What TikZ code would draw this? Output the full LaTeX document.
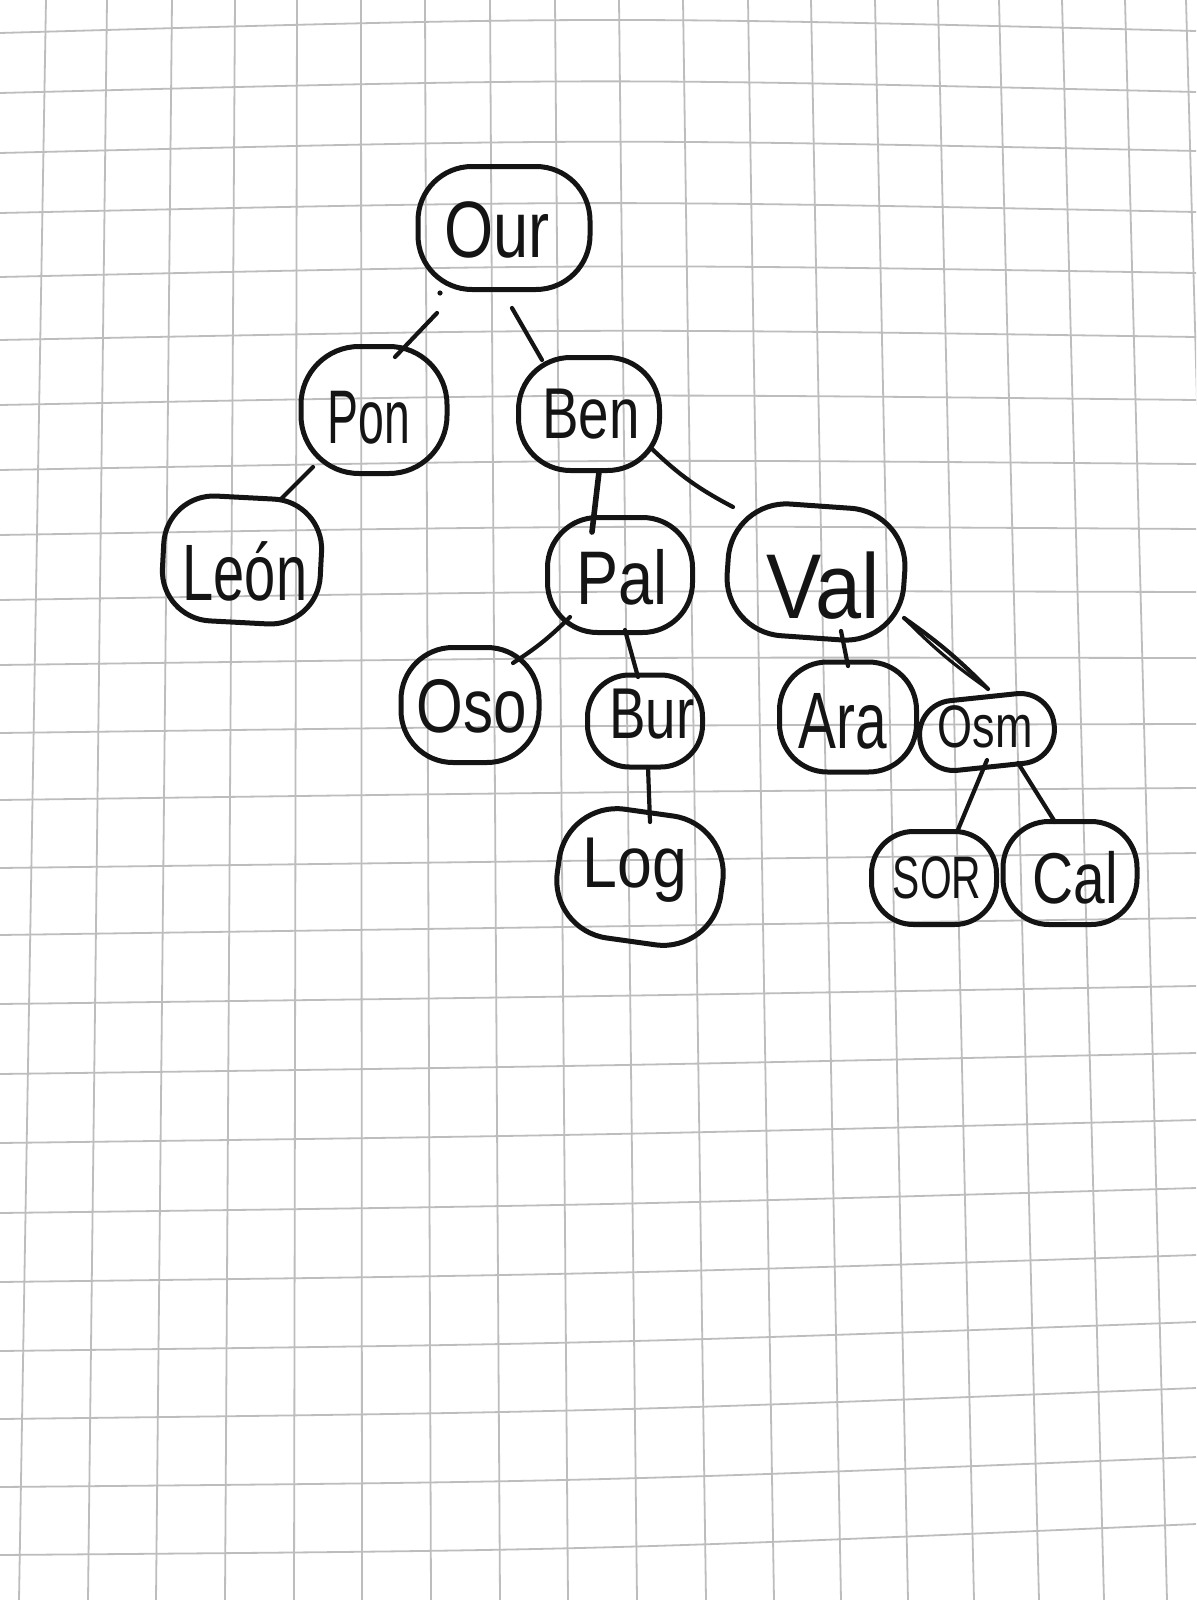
\documentclass[tikz,border=0pt]{standalone}
\usepackage{fontspec}
\setmainfont{Liberation Sans}
\usepackage{graphicx}
\usetikzlibrary{calc}
\definecolor{ink}{HTML}{141414}
\definecolor{gridc}{HTML}{BDBDBD}
\newcommand{\hwtext}[3]{\fontsize{#1pt}{#1pt}\selectfont\scalebox{#2}[1]{#3}}
\begin{document}
\begin{tikzpicture}[x=0.5pt,y=-0.5pt,
  blob/.style={draw=ink, line width=2.5pt, rectangle, inner sep=0pt},
  lbl/.style={anchor=base, inner sep=0pt, outer sep=0pt, text=ink},
  edge/.style={draw=ink, line width=2.1pt, line cap=round},
  gridline/.style={draw=gridc, line width=0.9pt}]
\useasboundingbox (0,0) rectangle (1196,1600);
\fill[white] (0,0) rectangle (1196,1600);
\begin{scope}
\clip (0,0) rectangle (1196,1600);
% grid: vertical lines
\foreach \xa/\xb in {46/19,107/88,172/156,235/225,297/294,361/362,425/431,490/500,555/568,619/637,683/706,748/774,811/841,875/908,938/974,999/1039,1062/1104,1125/1167,1186/1230}
  \draw[gridline] (\xa,0) -- (\xb,1600);
% grid: horizontal lines
\foreach \ya/\yb/\i in {33/31/0,93/92/1,153/151/2,213/212/3,277/273/4,340/337/5,405/400/6,470/464/7,535/529/8,600/592/9,665/658/10,733/724/11,800/788/12,868/853/13,935/918/14,1004/986/15,1074/1053/16,1143/1120/17,1213/1188/18,1282/1255/19,1351/1322/20,1419/1388/21,1487/1457/22,1555/1524/23}
{
  \pgfmathsetmacro\yc{(\ya+\yb)/2+(-16+26.7*\i/23)}
  \draw[gridline] (0,\ya) .. controls (598,\yc) .. (1196,\yb);
}
\end{scope}

% blobs
\node[blob, minimum width=86pt, minimum height=61.5pt, rounded corners=27pt] (our) at (504,228) {};
\node[blob, minimum width=73pt, minimum height=63.5pt, rounded corners=29pt] (pon) at (374,410) {};
\node[blob, minimum width=70.5pt, minimum height=56.5pt, rounded corners=26pt] (ben) at (589,414) {};
\node[blob, minimum width=79pt, minimum height=62.5pt, rounded corners=25pt, rotate=-3] (leon) at (242,560) {};
\node[blob, minimum width=72.5pt, minimum height=57.5pt, rounded corners=25pt] (pal) at (620,575) {};
\node[blob, minimum width=88.5pt, minimum height=66pt, rounded corners=29pt, rotate=-4] (val) at (816,572) {};
\node[blob, minimum width=69pt, minimum height=57.5pt, rounded corners=26pt] (oso) at (470,705) {};
\node[blob, minimum width=57.5pt, minimum height=46pt, rounded corners=21pt] (bur) at (645,721) {};
\node[blob, minimum width=82.5pt, minimum height=65pt, rounded corners=29pt, rotate=-8] (log) at (640,877) {};
\node[blob, minimum width=68.5pt, minimum height=55pt, rounded corners=24pt] (ara) at (848,717) {};
\node[blob, minimum width=67.5pt, minimum height=35pt, rounded corners=17pt, rotate=6] (osm) at (987,732) {};
\node[blob, minimum width=62.5pt, minimum height=46.5pt, rounded corners=21pt] (sor) at (934,878) {};
\node[blob, minimum width=67pt, minimum height=51.5pt, rounded corners=23pt] (cal) at (1070,873) {};

% labels
\node[lbl] (ourT) at (497,257) {\hwtext{40}{0.79}{Our}};
\node[lbl] (ponT) at (369,443) {\hwtext{38}{0.61}{Pon}};
\node[lbl] (benT) at (591,438) {\hwtext{36}{0.76}{Ben}};
\node[lbl] (leonT) at (245,600) {\hwtext{40}{0.70}{León}};
\node[lbl] (palT) at (622,604) {\hwtext{38}{0.83}{Pal}};
\node[lbl] (valT) at (823,618) {\hwtext{46}{0.90}{Val}};
\node[lbl] (osoT) at (472,732) {\hwtext{38}{0.79}{Oso}};
\node[lbl] (burT) at (652,738) {\hwtext{36}{0.76}{Bur}};
\node[lbl] (logT) at (635,887) {\hwtext{36}{0.87}{Log}};
\node[lbl] (araT) at (843,748) {\hwtext{40}{0.71}{Ara}};
\node[lbl] (osmT) at (985,747) {\hwtext{30}{0.75}{Osm}};
\node[lbl] (sorT) at (937,898) {\hwtext{30}{0.68}{SOR}};
\node[lbl] (calT) at (1075,903) {\hwtext{36}{0.79}{Cal}};

% connectors
\draw[edge] ($(our)+(-67,85)$) -- ($(pon)+(21,-53)$);
\fill[ink] (440,293) circle (1.3pt);
\draw[edge] ($(our)+(8,80)$) -- ($(ben)+(-47,-54)$);
\draw[edge] ($(pon)+(-61,57)$) -- ($(leon)+(38,-60)$);
\draw[edge, line width=2.8pt] ($(ben)+(10,58)$) -- ($(pal)+(-28,-43)$);
\draw[edge] ($(ben)+(62,34)$) to[bend right=8] ($(val)+(-83,-65)$);
\draw[edge] ($(pal)+(-50,42)$) to[bend left=6] ($(oso)+(43,-42)$);
\draw[edge] ($(pal)+(5,55)$) -- ($(bur)+(-7,-44)$);
\draw[edge] ($(bur)+(3,46)$) -- ($(log)+(10,-55)$);
\draw[edge] ($(val)+(25,59)$) -- ($(ara)+(0,-51)$);
\draw[edge] ($(val)+(88,46)$) to[bend left=5] ($(osm)+(1,-43)$);
\draw[edge, line width=1.6pt] ($(val)+(88,46)$) to[bend right=5] ($(osm)+(1,-43)$);
\draw[edge] ($(osm)+(0,28)$) -- ($(sor)+(23,-46)$);
\draw[edge] ($(osm)+(31,31)$) -- ($(cal)+(-15,-51)$);
\end{tikzpicture}
\end{document}
